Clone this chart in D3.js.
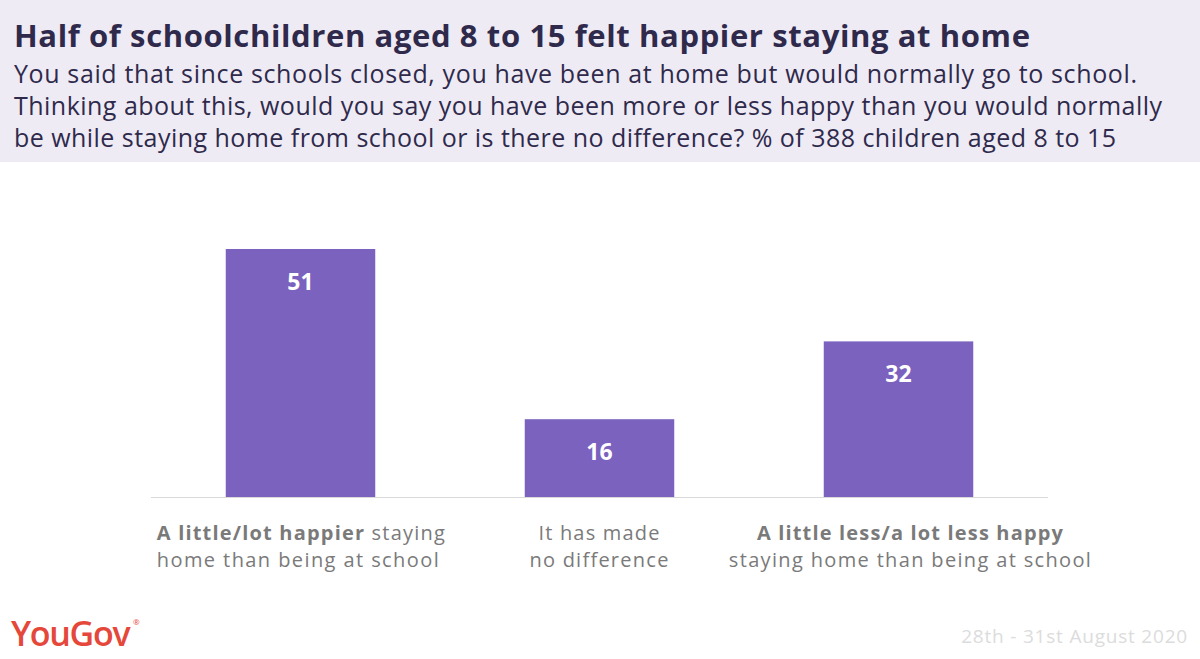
<!DOCTYPE html>
<html><head><meta charset="utf-8">
<script src="https://cdn.jsdelivr.net/npm/d3@7"></script>
<style>body{margin:0;background:#fff}svg{display:block}</style>
</head><body>
<svg id="c" width="1200" height="659"></svg>
<script>
const title = "Half of schoolchildren aged 8 to 15 felt happier staying at home";
const subtitleLines = [
  "You said that since schools closed, you have been at home but would normally go to school.",
  "Thinking about this, would you say you have been more or less happy than you would normally",
  "be while staying home from school or is there no difference? % of 388 children aged 8 to 15"
];
const categories = ["happier", "nodiff", "lesshappy"];
const values = [51, 16, 32];
const labelLines = [
  [[["A little/lot happier", true], [" staying", false]], [["home than being at school", false]]],
  [[["It has made", false]], [["no difference", false]]],
  [[["A little less/a lot less happy", true]], [["staying home than being at school", false]]]
];
const dateText = "28th - 31st August 2020";
const brand = "YouGov";

// target widths (px), used to fit letter-spacing
const subWidths = [1123, 1148, 1102];
const labelWidths = [[288, 282], [121, 139], [306, 362]];

const svg = d3.select("#c");
const font = "'Open Sans', Lato, sans-serif";

function fit(t, target){
  const n = t.text().length;
  const w = t.node().getComputedTextLength();
  if (n > 1) t.attr("letter-spacing", (target - w) / (n - 1));
}

svg.append("rect").attr("x",0).attr("y",0).attr("width",1200).attr("height",162).attr("fill","#eeebf5");
const tt = svg.append("text").attr("x",14).attr("y",47).attr("font-family",font).attr("font-weight",700)
  .attr("font-size",31).attr("fill","#2f2a4b").text(title);
fit(tt, 1016);
svg.selectAll("text.sub").data(subtitleLines).join("text").attr("class","sub")
  .attr("x",14).attr("y",(d,i)=>83+i*32).attr("font-family",font).attr("font-size",25)
  .attr("fill","#2f2a4b").text(d=>d)
  .each(function(d,i){ fit(d3.select(this), subWidths[i]); });

const x = d3.scaleBand().domain(categories).range([151,1048]).paddingInner(0.5).paddingOuter(0.25);
const y = d3.scaleLinear().domain([0, d3.max(values)]).range([497, 249]);

svg.selectAll("rect.bar").data(values).join("rect").attr("class","bar")
  .attr("x",(d,i)=>x(categories[i])).attr("width",x.bandwidth())
  .attr("y",d=>y(d)).attr("height",d=>y(0)-y(d)).attr("fill","#7b62bf");

svg.append("line").attr("x1",151).attr("x2",1048).attr("y1",y(0)+0.5).attr("y2",y(0)+0.5)
  .attr("stroke","#d9d9d9").attr("stroke-width",1);

svg.selectAll("text.val").data(values).join("text").attr("class","val")
  .attr("x",(d,i)=>x(categories[i])+x.bandwidth()/2).attr("y",d=>y(d)+41)
  .attr("text-anchor","middle").attr("font-family",font).attr("font-weight",700)
  .attr("font-size",23).attr("fill","#fff").text(d=>d);

const labelAnchor = ["start", "middle", "middle"];
const labelShift = [-69, 0, 12];
labelLines.forEach((lines,i)=>{
  const cx = x(categories[i]) + (labelAnchor[i] === "start" ? 0 : x.bandwidth()/2) + labelShift[i];
  lines.forEach((parts,j)=>{
    const t = svg.append("text").attr("x",cx).attr("y",540+j*27).attr("text-anchor",labelAnchor[i])
      .attr("font-family",font).attr("font-size",20).attr("fill","#7a7a7a");
    parts.forEach(p=>t.append("tspan").attr("font-weight",p[1]?700:400).text(p[0]));
    fit(t, labelWidths[i][j]);
  });
});

svg.append("text").attr("x",11).attr("y",646).attr("font-family","'Open Sans', sans-serif")
  .attr("font-weight",600).attr("font-size",34).attr("letter-spacing",-1.3).attr("fill","#e5473a").text(brand);
svg.append("text").attr("x",133).attr("y",625).attr("font-family","'Open Sans', sans-serif")
  .attr("font-size",8).attr("fill","#e5473a").text("®");
const dt = svg.append("text").attr("x",1188).attr("y",643).attr("text-anchor","end").attr("font-family",font)
  .attr("font-size",19).attr("fill","#dcdcdc").text(dateText);
fit(dt, 226);
</script>
</body></html>
